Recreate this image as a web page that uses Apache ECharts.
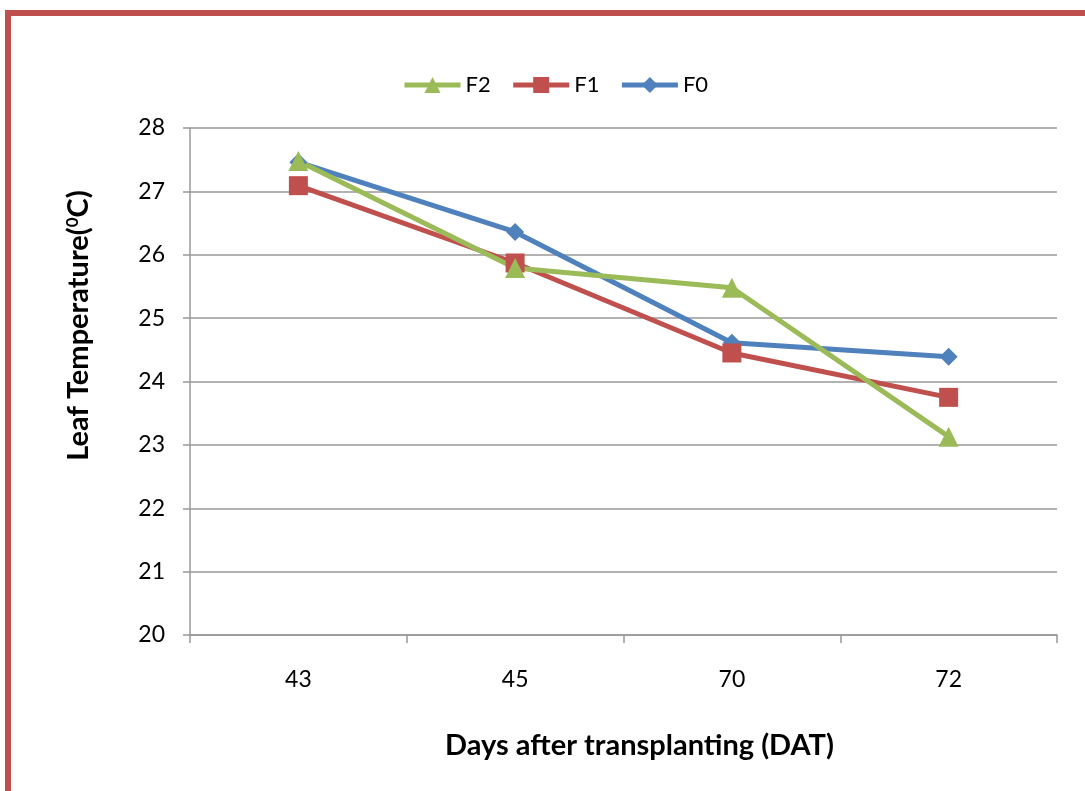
<!DOCTYPE html>
<html>
<head>
<meta charset="utf-8">
<script src="https://cdn.jsdelivr.net/npm/echarts@6/dist/echarts.min.js"></script>
<style>
  html, body { margin: 0; padding: 0; background: #ffffff; }
  #chart { width: 1085px; height: 791px; }
</style>
</head>
<body>
<div id="chart"></div>
<script>
// Days after transplanting and leaf temperature (°C) per treatment
const categories = ['43', '45', '70', '72'];
const seriesF2 = [27.48, 25.79, 25.48, 23.13];
const seriesF1 = [27.09, 25.87, 24.45, 23.75];
const seriesF0 = [27.46, 26.36, 24.61, 24.39];
const yTicks = { min: 20, max: 28, step: 1 };

const FONT = 'Lato, "Open Sans", sans-serif';
const GRID_GRAY = '#989898';

const chart = echarts.init(document.getElementById('chart'), null, { renderer: 'canvas' });

function lineSeries(name, data, color, symbol, size) {
  return {
    name: name,
    type: 'line',
    data: data,
    symbol: symbol,
    symbolSize: size,
    showAllSymbol: true,
    lineStyle: { color: color, width: 5 },
    itemStyle: { color: color, borderWidth: 0 },
    emphasis: { disabled: true },
    animation: false
  };
}

chart.setOption({
  backgroundColor: '#ffffff',
  animation: false,
  graphic: [{
    type: 'rect',
    shape: { x: 8, y: 13, width: 1200, height: 1000 },
    style: { fill: 'none', stroke: '#C0504D', lineWidth: 6 },
    silent: true,
    z: 100
  }],
  legend: {
    data: ['F2', 'F1', 'F0'],
    top: 69,
    left: 397,
    itemWidth: 56,
    itemHeight: 20,
    itemGap: 20,
    lineStyle: { width: 5 },
    textStyle: { fontFamily: FONT, fontSize: 22, color: '#000000' }
  },
  grid: { left: 190, top: 128, right: 28, bottom: 156, containLabel: false },
  xAxis: {
    type: 'category',
    data: categories,
    boundaryGap: true,
    name: 'Days after transplanting (DAT)',
    nameLocation: 'middle',
    nameGap: 96,
    nameTextStyle: {
      fontFamily: FONT, fontSize: 29, fontWeight: 'bold', color: '#000000',
      padding: [0, 0, 0, 32]
    },
    axisLine: { lineStyle: { color: GRID_GRAY, width: 1.5 } },
    axisTick: { show: true, length: 8, alignWithLabel: false, lineStyle: { color: GRID_GRAY, width: 1.5 } },
    axisLabel: { margin: 33, fontFamily: FONT, fontSize: 23, color: '#000000' },
    splitLine: { show: false }
  },
  yAxis: {
    type: 'value',
    min: yTicks.min,
    max: yTicks.max,
    interval: yTicks.step,
    name: 'Leaf Temperature({sup|0}C)',
    nameLocation: 'middle',
    nameGap: 97,
    nameRotate: 90,
    nameTextStyle: {
      fontFamily: FONT, fontSize: 29, fontWeight: 'bold', color: '#000000',
      padding: [0, 0, 0, 112],
      rich: {
        sup: { fontFamily: FONT, fontSize: 17, fontWeight: 'bold', color: '#000000', verticalAlign: 'top', padding: [0, 0, 12, 0] }
      }
    },
    axisLine: { show: true, lineStyle: { color: GRID_GRAY, width: 1.5 } },
    axisTick: { show: true, length: 7, lineStyle: { color: GRID_GRAY, width: 1.5 } },
    axisLabel: { margin: 25, fontFamily: FONT, fontSize: 23, color: '#000000' },
    splitLine: { show: true, lineStyle: { color: GRID_GRAY, width: 1.5 } }
  },
  series: [
    lineSeries('F0', seriesF0, '#4F81BD', 'diamond', 18),
    lineSeries('F1', seriesF1, '#C0504D', 'rect', 19),
    lineSeries('F2', seriesF2, '#9BBB59', 'triangle', 20)
  ]
});
</script>
</body>
</html>
